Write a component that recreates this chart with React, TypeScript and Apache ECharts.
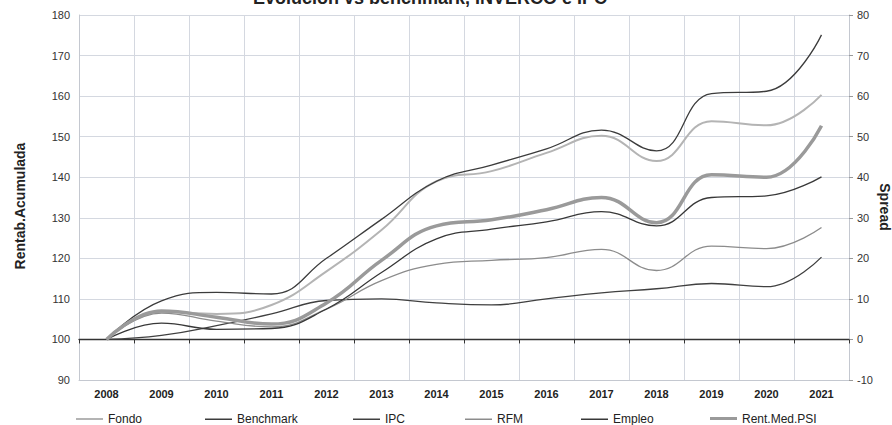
import React, { useEffect, useRef } from "react";
import * as echarts from "echarts";

const years = ["2008", "2009", "2010", "2011", "2012", "2013", "2014", "2015", "2016", "2017", "2018", "2019", "2020", "2021"];
const fondo = [100, 106.8, 106.3, 108.5, 116.8, 127, 139, 141.5, 146, 150.2, 144, 153.8, 152.8, 160.3];
const benchmark = [100, 109.5, 111.6, 111.2, 120, 129.6, 139, 143, 147, 151.6, 146.5, 160.6, 161.2, 175.1];
const ipc = [100, 101, 103.4, 106.3, 109.6, 110, 109, 108.5, 110, 111.5, 112.5, 113.8, 113, 120.3];
const rfm = [100, 106.5, 104.5, 103.1, 107.5, 114.5, 118.5, 119.5, 120.2, 122.2, 117, 123, 122.4, 127.6];
const empleo = [100, 104, 102.5, 102.7, 107.5, 116.5, 124.8, 127.2, 129, 131.5, 128, 135, 135.4, 140.1];
const rentMedPSI = [100, 107, 105.5, 103.8, 109, 119.5, 128, 129.5, 132, 135, 128.8, 140.6, 140, 152.7];

const titleText = "Evolución vs benchmark, INVERCO e IPC";
const leftAxisName = "Rentab.Acumulada";
const rightAxisName = "Spread";

const FONT = "'Liberation Sans', Arial, sans-serif";

export default function App() {
  const ref = useRef<HTMLDivElement>(null);
  useEffect(() => {
    document.body.style.margin = "0";
    const chart = echarts.init(ref.current!, null, { renderer: "svg" });
    const mk = (name: string, data: number[], color: string, width: number) => ({
      name,
      type: "line",
      data,
      smooth: 0.45,
      symbol: "none",
      xAxisIndex: 0,
      yAxisIndex: 0,
      itemStyle: { color },
      lineStyle: { color, width },
    });
    const legendPos: [string, number, number][] = [
      ["Fondo", 71, 2],
      ["Benchmark", 200, 1.5],
      ["IPC", 348, 1.5],
      ["RFM", 460, 1.5],
      ["Empleo", 576, 1.5],
      ["Rent.Med.PSI", 705, 3],
    ];
    chart.setOption({
      animation: false,
      backgroundColor: "#ffffff",
      textStyle: { fontFamily: FONT },
      graphic: [
        {
          type: "text",
          style: {
            text: titleText,
            x: 430,
            y: 7,
            align: "center",
            verticalAlign: "bottom",
            font: `bold 18px ${FONT}`,
            fill: "#222",
          },
        },
        {
          type: "text",
          x: 20,
          y: 206,
          rotation: Math.PI / 2,
          style: {
            text: leftAxisName,
            align: "center",
            verticalAlign: "middle",
            font: `bold 14px ${FONT}`,
            fill: "#222",
          },
        },
        {
          type: "text",
          x: 885,
          y: 207,
          rotation: -Math.PI / 2,
          style: {
            text: rightAxisName,
            align: "center",
            verticalAlign: "middle",
            font: `bold 14px ${FONT}`,
            fill: "#222",
          },
        },
      ],
      legend: legendPos.map(([name, left, h]) => ({
        data: [name],
        left,
        top: 413 - h / 2 - 5,
        padding: 5,
        icon: "rect",
        itemWidth: 27,
        itemHeight: h,
        textStyle: { fontSize: 12, color: "#222", fontFamily: FONT, lineHeight: 14 },
      })),
      grid: { left: 79, right: 43, top: 15, bottom: 45 },
      xAxis: [
        {
          type: "category",
          data: years,
          boundaryGap: true,
          position: "bottom",
          axisLine: { show: true, onZero: false, lineStyle: { color: "#c4c8d0", width: 1 } },
          axisTick: { show: false },
          axisLabel: { fontSize: 11, fontWeight: "bold", color: "#222", margin: 8, fontFamily: FONT },
          splitLine: { show: true, lineStyle: { color: "#d4d8e0", width: 1 } },
        },
        {
          type: "category",
          data: years,
          boundaryGap: true,
          position: "bottom",
          axisLine: { show: true, onZero: true, onZeroAxisIndex: 1, lineStyle: { color: "#333", width: 1.3 } },
          axisTick: { show: true, length: 4, lineStyle: { color: "#333" } },
          axisLabel: { show: false },
          splitLine: { show: false },
        },
      ],
      yAxis: [
        {
          type: "value",
          min: 90,
          max: 180,
          interval: 10,
          position: "left",
          axisLine: { show: true, lineStyle: { color: "#c4c8d0" } },
          axisTick: { show: false },
          axisLabel: { fontSize: 11, color: "#333", margin: 9, fontFamily: FONT },
          splitLine: { show: true, lineStyle: { color: "#d4d8e0", width: 1 } },
        },
        {
          type: "value",
          min: -10,
          max: 80,
          interval: 10,
          position: "right",
          axisLine: { show: true, lineStyle: { color: "#c4c8d0" } },
          axisTick: { show: true, length: 4, lineStyle: { color: "#999" } },
          axisLabel: { fontSize: 11, color: "#333", margin: 8, fontFamily: FONT },
          splitLine: { show: false },
        },
      ],
      series: [
        mk("Fondo", fondo, "#b4b4b4", 2),
        mk("Benchmark", benchmark, "#3c3c3c", 1.3),
        mk("IPC", ipc, "#404040", 1.3),
        mk("RFM", rfm, "#8c8c8c", 1.3),
        mk("Empleo", empleo, "#383838", 1.3),
        mk("Rent.Med.PSI", rentMedPSI, "#9a9a9a", 3.5),
      ],
    });
    return () => chart.dispose();
  }, []);
  return <div ref={ref} style={{ width: 892, height: 425 }} />;
}
